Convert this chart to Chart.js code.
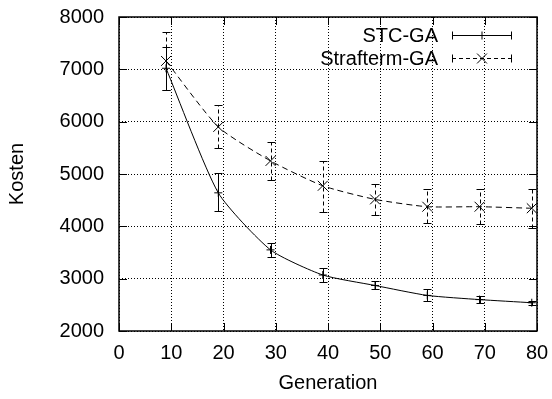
<!DOCTYPE html>
<html>
<head>
<meta charset="utf-8">
<script src="https://cdn.jsdelivr.net/npm/chart.js@4.4.0/dist/chart.umd.min.js"></script>
<style>
  html, body { margin: 0; padding: 0; background: #fff; }
  #wrap { width: 552px; height: 399px; }
</style>
</head>
<body>
<div id="wrap"><canvas id="myChart" width="552" height="399"></canvas></div>
<script>
// generations sampled
var generations = [9, 19, 29, 39, 49, 59, 69, 79];

// STC-GA: mean cost and error range
var stcMean = [7020, 4640, 3550, 3070, 2870, 2680, 2600, 2540];
var stcLow  = [6600, 4290, 3420, 2940, 2800, 2580, 2540, 2500];
var stcHigh = [7430, 5010, 3690, 3210, 2955, 2800, 2660, 2580];

// Strafterm-GA
var strMean = [7160, 5900, 5250, 4775, 4515, 4375, 4375, 4345];
var strLow  = [6600, 5500, 4885, 4280, 4215, 4055, 4040, 3975];
var strHigh = [7720, 6310, 5615, 5250, 4810, 4705, 4705, 4705];

var xTicks = [0, 10, 20, 30, 40, 50, 60, 70, 80];
var yTicks = [2000, 3000, 4000, 5000, 6000, 7000, 8000];

var seriesNames = ['STC-GA', 'Strafterm-GA'];
var FONT = 'Liberation Sans, Arial, Helvetica, sans-serif';

function pts(ys) {
    return generations.map(function (g, i) { return { x: g, y: ys[i] }; });
}

var errors = [
    { low: stcLow, high: stcHigh, dash: [] },
    { low: strLow, high: strHigh, dash: [4, 3] }
];

// error bars, frame with inward ticks, legend
var gnuplotLook = {
    id: 'gnuplotLook',
    afterDatasetsDraw: function (chart) {
        var ctx = chart.ctx;
        var xs = chart.scales.x, ys = chart.scales.y;
        var a = chart.chartArea;
        ctx.save();
        ctx.strokeStyle = '#000';
        ctx.lineWidth = 1;
        errors.forEach(function (e) {
            ctx.setLineDash(e.dash);
            generations.forEach(function (g, i) {
                var px = Math.round(xs.getPixelForValue(g)) + 0.5;
                var pl = Math.round(ys.getPixelForValue(e.low[i])) + 0.5;
                var ph = Math.round(ys.getPixelForValue(e.high[i])) + 0.5;
                ctx.beginPath();
                ctx.moveTo(px, pl); ctx.lineTo(px, ph);
                ctx.stroke();
                ctx.setLineDash([]);
                ctx.beginPath();
                ctx.moveTo(px - 4, pl); ctx.lineTo(px + 4, pl);
                ctx.moveTo(px - 4, ph); ctx.lineTo(px + 4, ph);
                ctx.stroke();
                ctx.setLineDash(e.dash);
            });
        });
        ctx.setLineDash([]);

        // frame
        ctx.lineWidth = 1.5;
        ctx.strokeRect(a.left, a.top, a.right - a.left, a.bottom - a.top);
        ctx.lineWidth = 1;
        ctx.beginPath();
        xTicks.forEach(function (t) {
            var px = Math.round(xs.getPixelForValue(t)) + 0.5;
            ctx.moveTo(px, a.bottom); ctx.lineTo(px, a.bottom - 8);
            ctx.moveTo(px, a.top); ctx.lineTo(px, a.top + 8);
        });
        yTicks.forEach(function (t) {
            var py = Math.round(ys.getPixelForValue(t)) + 0.5;
            ctx.moveTo(a.left, py); ctx.lineTo(a.left + 8, py);
            ctx.moveTo(a.right, py); ctx.lineTo(a.right - 8, py);
        });
        ctx.stroke();

        // legend
        ctx.font = '20px ' + FONT;
        ctx.fillStyle = '#000';
        ctx.textAlign = 'right';
        ctx.textBaseline = 'middle';
        var rows = [35, 58];
        chart.data.datasets.forEach(function (ds, i) {
            var y = rows[i] + 0.5;
            ctx.fillText(seriesNames[i], 438, rows[i] + 1);
            ctx.setLineDash(i === 1 ? [4, 3] : []);
            ctx.beginPath();
            ctx.moveTo(452, y); ctx.lineTo(512, y);
            ctx.stroke();
            ctx.setLineDash([]);
            ctx.beginPath();
            ctx.moveTo(452.5, y - 4); ctx.lineTo(452.5, y + 4);
            ctx.moveTo(511.5, y - 4); ctx.lineTo(511.5, y + 4);
            ctx.stroke();
            Chart.helpers.drawPoint(ctx, {
                pointStyle: ds.pointStyle, radius: ds.pointRadius, borderWidth: 1
            }, 482, y);
        });
        ctx.restore();
    }
};

function noPad(s) {
    s.paddingTop = 0; s.paddingBottom = 0;
    s.paddingLeft = 0; s.paddingRight = 0;
}

var chart = document.getElementById('myChart').getContext('2d');

var myChart = new Chart(chart, {
    type: 'line',
    data: {
        datasets: [{
            label: seriesNames[0],
            data: pts(stcMean),
            borderColor: '#000',
            borderWidth: 1,
            pointStyle: 'cross',
            pointRadius: 4,
            pointBorderColor: '#000',
            pointBorderWidth: 1,
            tension: 0.2,
            fill: false
        }, {
            label: seriesNames[1],
            data: pts(strMean),
            borderColor: '#000',
            borderWidth: 1,
            borderDash: [6, 4],
            pointStyle: 'crossRot',
            pointRadius: 7,
            pointBorderColor: '#000',
            pointBorderWidth: 1,
            tension: 0.2,
            fill: false
        }]
    },
    options: {
        responsive: false,
        animation: false,
        events: [],
        layout: { padding: { left: 0, right: 15, top: 17, bottom: 0 } },
        plugins: { legend: { display: false }, tooltip: { enabled: false } },
        scales: {
            x: {
                type: 'linear',
                min: 0, max: 80,
                afterFit: function (s) { s.height = 68; noPad(s); },
                afterBuildTicks: function (s) { s.ticks = xTicks.map(function (v) { return { value: v }; }); },
                grid: { color: '#000', lineWidth: 1, drawTicks: false, tickLength: 0 },
                border: { display: false, dash: [1, 2] },
                ticks: { color: '#000', padding: 10, maxRotation: 0, font: { family: FONT, size: 20 },
                         callback: function (v) { return String(v); } },
                title: { display: true, text: 'Generation', color: '#000', padding: { top: 0, bottom: 4 }, font: { family: FONT, size: 20 } }
            },
            y: {
                type: 'linear',
                min: 2000, max: 8000,
                afterFit: function (s) { s.width = 119; noPad(s); },
                afterBuildTicks: function (s) { s.ticks = yTicks.map(function (v) { return { value: v }; }); },
                grid: { color: '#000', lineWidth: 1, drawTicks: false, tickLength: 0 },
                border: { display: false, dash: [1, 2] },
                ticks: { color: '#000', padding: 15, font: { family: FONT, size: 20 },
                         callback: function (v) { return String(v); } },
                title: { display: true, text: 'Kosten', color: '#000', padding: { top: 5, bottom: 0 }, font: { family: FONT, size: 20 } }
            }
        }
    },
    plugins: [gnuplotLook]
});
</script>
</body>
</html>
